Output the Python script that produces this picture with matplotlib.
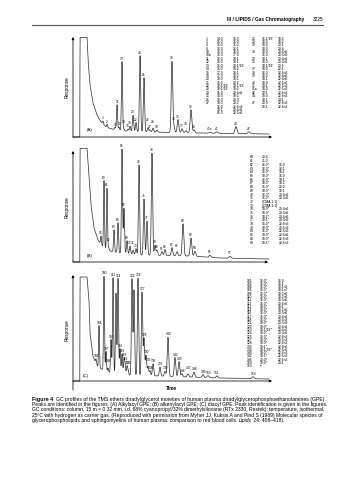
import numpy as np
import matplotlib
matplotlib.use("Agg")
import matplotlib.pyplot as plt

plt.rcParams['font.family'] = ['Liberation Sans', 'DejaVu Sans']

# ---------------- data ----------------
# retention time (min) and response; tail = solvent front + decaying baseline
a_tail_t = [0.0, 0.68, 0.70, 1.40, 1.50, 1.70, 2.00, 2.40, 2.80, 3.30, 3.90, 5.20, 7.70, 12.7, 19.5]
a_tail_r = [0, 0, 100, 100, 77, 52, 34, 22, 15, 10, 8, 6, 5, 4, 3]
a_labels = ['1', '2', '10', '11', '12', '13', '14', '15', '19', '20', '22', '24', '25', '26',
            '27', '29', '30', '33', '34', '35', '37', '38', '39', '40', '41a', '41', '44', '47']
a_times = [3.0, 3.4, 4.2, 4.4, 4.6, 4.9, 5.1, 5.5, 5.7, 6.0, 6.3, 6.7, 7.1, 7.5,
           7.7, 8.0, 8.4, 9.9, 10.1, 10.5, 10.9, 11.3, 11.8, 12.1, 13.7, 14.4, 16.3, 17.6]
a_heights = [3, 3, 2, 25, 3, 69, 2, 2, 5, 16, 9, 76, 54, 4,
             2, 4, 2, 71, 5, 13, 4, 2, 23, 3, 1, 1.5, 7, 2]

b_tail_t = [0.0, 0.68, 0.70, 1.40, 1.60, 1.80, 2.10, 2.50, 3.00, 3.70, 4.70, 6.70, 11.7, 14.7, 19.3]
b_tail_r = [0, 0, 114, 114, 87, 57, 34, 22, 15, 11, 9, 7, 6, 4, 3]
b_labels = ['56', '60', '61', '62', '63', '64', '65', '66', '69', '72', '71', '73', '74', '76',
            '77', '78', '79', '80', '81', '84', '85', '86', '88', '89', '90', '96', '97']
b_times = [2.8, 3.1, 3.4, 3.55, 4.1, 4.5, 4.9, 5.1, 5.4, 5.7, 6.0, 6.3, 6.6, 7.1,
           7.4, 7.9, 8.2, 8.4, 8.9, 9.2, 9.9, 10.4, 11.0, 11.8, 12.2, 13.7, 15.7]
b_heights = [8, 67, 61, 3, 22, 30, 104, 45, 13, 8, 4, 6, 90, 56,
             34, 102, 10, 5, 4, 6, 8, 4, 32, 18, 5, 2, 2]

c_tail_t = [0.0, 0.68, 0.70, 1.40, 1.60, 1.70, 2.00, 2.50, 3.40, 5.70, 14.7, 19.5]
c_tail_r = [0, 0, 104, 104, 81, 48, 24, 14, 9, 6, 3, 2]
c_labels = ['102', '104', '100', '107', '108', '110', '112', '', '114', '116', '118', '119',
            '121', '123', '125', '122', '', '124', '127', '128', '130', '133', '134', '136',
            '137', '139', '140', '142', '143', '146', '147', '148', '149', '150', '151', '153']
c_times = [2.3, 2.6, 3.1, 3.3, 3.5, 3.8, 4.0, 4.3, 4.5, 4.7, 4.9, 5.1,
           5.2, 5.4, 5.5, 5.9, 6.1, 6.5, 6.9, 7.1, 7.3, 7.5, 7.7, 8.0,
           8.7, 9.2, 9.5, 10.2, 10.6, 10.9, 11.5, 12.1, 13.0, 13.5, 14.4, 18.0]
c_heights = [4, 42, 94, 20, 4, 33, 95, 80, 95, 25, 20, 14,
             10, 8, 4, 96, 85, 97, 83, 37, 20, 9, 5, 12,
             9, 5, 39, 19, 15, 3, 3, 5, 3, 2, 2, 2]

# labels lifted above their neighbours (points)
label_lift = {'26': 3.5, '29': 2.5, '14': 3.0, '34': 3.0, '38': 2.5, '62': 3.0,
              '71': 3.0, '86': 2.0, '108': 3.0, '125': 2.5, '133': 2.5, '147': 2.5}

# peak identification tables
a_table_left = [("1", "14:0", "16:0"), ("2", "15:0", "16:0"), ("4", "16:0", "16:0"),
                ("8", "16:0", "16:1"), ("10", "15:0", "18:0"), ("10a", "16:0", "17:0"),
                ("11", "16:0", "18:1"), ("12", "16:0", "18:1"), ("13", "16:0", "18:1/18'"),
                ("14", "16:0", "18:2"), ("15", "17:0", "18:1"), ("19", "17:0", "18:2"),
                ("20", "18:0", "18:1"), ("21", "16:0", "20:4"), ("22", "18:1/18'", "18:1/18'"),
                ("23", "18:1/18'", "18:2"), ("24", "16:0", "20:4n6"), ("25", "18:0", "18:2"),
                ("26", "16:0", "20:3"), ("27", "18:0", "20:2"), ("", "16:0", "22:6n3"),
                ("", "18:1", "20:4n6"), ("", "16:0", "22:5n6")]
a_table_right = [("25", "16:1/18'", "18:2"), ("29", "18:0", "18:2"), ("30", "18:0", "20:1"),
                 ("", "18:0", "20:4"), ("33", "18:0", "20:4n6"), ("", "16:0", "20:3n9"),
                 ("34", "18:1", "20:4n6"), ("35", "18:0", "20:3n6"), ("", "18:1/18'", "20:5"),
                 ("37", "18:0", "22:1"), ("38", "16:0", "22:6n3"), ("39", "18:0", "22:4n6"),
                 ("", "18:1", "22:4n6"), ("40", "18:0", "22:5n6"), ("41", "18:1", "22:5n3"),
                 ("41a", "18:0", "22:5n3"), ("42", "18:1", "22:6n3"), ("44", "18:0", "22:6n3"),
                 ("", "18:1", "24:1"), ("47", "20:0", "22:6n3"), ("", "18:1", "22:6n3")]
b_table = [("60", "20:4", ""), ("61", "21:0", ""), ("62", "16:0*", "16:0"), ("63", "16:0*", "16:1"),
           ("64", "16:0*", "18:1"), ("65", "18:0*", "16:0"), ("66", "16:0*", "18:1"),
           ("67", "18:0*", "18:2"), ("68", "16:0*", "20:0"), ("69", "18:0*", "18:1"),
           ("70", "16:0*", "20:4n6"), ("71", "16:0*", "20:3n6"), ("72", "(DMA 1:1)", ""),
           ("73", "(DMA 1:1)", ""), ("74", "18:0*", "20:4n6"), ("75", "18:0*", "20:3n6"),
           ("76", "18:1*", "20:4n6"), ("77", "18:1*", "20:3n9"), ("78", "16:0*", "22:6n3"),
           ("79", "18:0*", "20:5n3"), ("84", "16:0*", "22:5n3"), ("85", "18:0*", "22:4n6"),
           ("88", "18:0*", "22:6n3"), ("89", "18:1*", "22:6n3")]
c_table = [("101", "16:0*", "16:0"), ("102", "16:0*", "16:1"), ("104", "16:0*", "18:1n9"),
           ("105", "16:0*", "18:1n7"), ("106", "16:0*", "18:2n6"), ("110", "16:0*", "18:2n6"),
           ("111", "16:0*", "18:3n6"), ("112", "16:0*", "20:4n6"), ("113", "18:0*", "18:1"),
           ("114", "18:0*", "18:2n6"), ("116", "16:0*", "20:3n6"), ("117", "16:0*", "20:4n6"),
           ("118", "16:0*", "20:5n3"), ("121", "18:0*", "20:3n9"), ("122", "18:0*", "20:4n6"),
           ("123", "18:1/18'*", "20:4n6"), ("124", "18:0*", "20:3n6"), ("125", "16:0*", "22:6n3"),
           ("127", "18:0*", "20:5n3"), ("128", "18:0*", "22:6n3"), ("130", "18:1*", "22:4n6"),
           ("134", "18:1/18'*", "22:5n6"), ("140", "18:0*", "22:6n3"), ("142", "18:1*", "22:5n3"),
           ("146", "20:0*", "22:6n3"), ("150", "18:0*", "24:1"), ("153", "**", "")]

caption_head = "Figure 4"
caption = [
    "GC profiles of the TMS ethers diradylglycerol moieties of human plasma diradylglycerophosphoethanolamines (GPE).",
    "Peaks are identified in the figures. (A) Alkylacyl GPE; (B) alkenylacyl GPE; (C) diacyl GPE. Peak identification is given in the figures.",
    "GC conditions: column, 15 m \u00d7 0.32 mm, i.d. 68% cyanopropyl/32% dimethylsiloxane (RTx 2330, Restek); temperature, isothermal,",
    "25\u00b0C with hydrogen as carrier gas. (Reproduced with permission from Myher JJ, Kuksis A and Pind S (1989) Molecular species of",
]
caption_last = ["glycerophospholipids and sphingomyelins of human plasma: comparison to red blood cells. ",
                "Lipids", " 24: 408\u2013418)."]

# ---------------- figure ----------------
W, H = 356, 480
fig = plt.figure(figsize=(W / 100, H / 100), dpi=100)
page = fig.add_axes([0, 0, 1, 1])
page.set_xlim(0, W)
page.set_ylim(H, 0)
page.axis('off')

# running header
page.text(304, 19.5, 'III / LIPIDS / Gas Chromatography', ha='right', va='center',
          fontsize=3.4, fontweight='bold')
page.text(323, 19.5, '3225', ha='right', va='center', fontsize=3.4)
page.plot([32, 323], [25, 25], color='#555555', lw=0.8)

arrow = dict(arrowstyle='-|>', lw=0.55, color='black', mutation_scale=3.5, shrinkA=0, shrinkB=0)


def chromatogram(x0, base, top_px, top, tail_t, tail_r, labels, times, heights,
                 xend=1.0, ytip=1.0, ybelow=0.0):
    ax = fig.add_axes([x0 / W, (H - base) / H, (272 - x0) / W, (base - top_px) / H])
    t = np.linspace(0, 19.6, 8000)
    r = np.interp(t, tail_t, tail_r)
    for t0, h in zip(times, heights):
        w = 0.035 + 0.004 * t0
        r = r + h * np.exp(-0.5 * ((t - t0) / w) ** 2)
    r = np.minimum(r, top - 0.4)
    ax.plot(t, r, color='#2a2a2a', lw=0.5, clip_on=False)
    for lab, t0 in zip(labels, times):
        if not lab:
            continue
        apex = r[np.argmin(np.abs(t - t0))]
        ax.annotate(lab, (t0, apex), xytext=(0, 0.6 + label_lift.get(lab, 0)),
                    textcoords='offset points', ha='center', va='bottom', fontsize=2.3,
                    annotation_clip=False)
    ax.set_xlim(0, 19.9)
    ax.set_ylim(0, top)
    ax.axis('off')
    ax.annotate('', xy=(xend, 0), xytext=(0, 0), xycoords='axes fraction', arrowprops=arrow)
    ax.annotate('', xy=(0, ytip), xytext=(0, -ybelow), xycoords='axes fraction', arrowprops=arrow)
    return ax


chromatogram(73, 137, 37, 100, a_tail_t, a_tail_r, a_labels, a_times, a_heights)
chromatogram(73, 262, 148, 114, b_tail_t, b_tail_r, b_labels, b_times, b_heights,
             xend=0.98, ytip=0.974)
chromatogram(73, 381, 275, 106, c_tail_t, c_tail_r, c_labels, c_times, c_heights,
             ybelow=0.085)

for y, lab in [(87, 'Response'), (207, 'Response'), (330, 'Response')]:
    page.text(67, y, lab, rotation=90, ha='center', va='center', fontsize=3.4)
for x, y, lab in [(90, 130, '(A)'), (90, 256, '(B)'), (86, 376, '(C)')]:
    page.text(x, y, lab, ha='center', va='center', fontsize=3.2)
page.text(171, 389, 'Time', ha='center', va='center', fontsize=3.4, fontweight='bold')


def table(rows, xs, y0, dy, fs=2.4):
    for i, row in enumerate(rows):
        for x, s in zip(xs, row):
            page.text(x, y0 + i * dy, s, ha='left', va='center', fontsize=fs)


table(a_table_left, (206, 217, 233), 38.5, 3.4)
table(a_table_right, (252, 262, 278), 38.5, 3.4)
table(b_table, (250, 262, 279), 157.5, 3.7)
table(c_table, (247, 260, 278), 280.5, 3.3)

# caption: one text per line, size fitted so the full lines span x = 32..323
renderer = fig.canvas.get_renderer()
head = page.text(32, 401, caption_head, fontsize=3.9, fontweight='bold', va='baseline')
head_w = head.get_window_extent(renderer).width + 3.0
sizes = []
for li, line in enumerate(caption):
    x0 = 32 + (head_w if li == 0 else 0)
    txt = page.text(x0, 401 + li * 5.2, line, fontsize=3.9, va='baseline', ha='left')
    w = txt.get_window_extent(renderer).width
    fs = 3.9 * (323 - x0) / w
    txt.set_fontsize(fs)
    sizes.append(fs)

fs_last = float(np.mean(sizes))
x = 32
y_last = 401 + len(caption) * 5.2
for part, style in zip(caption_last, ['normal', 'italic', 'normal']):
    txt = page.text(x, y_last, part, fontsize=fs_last, fontstyle=style, va='baseline', ha='left')
    x += txt.get_window_extent(renderer).width

fig.savefig('out.png', dpi=100)
